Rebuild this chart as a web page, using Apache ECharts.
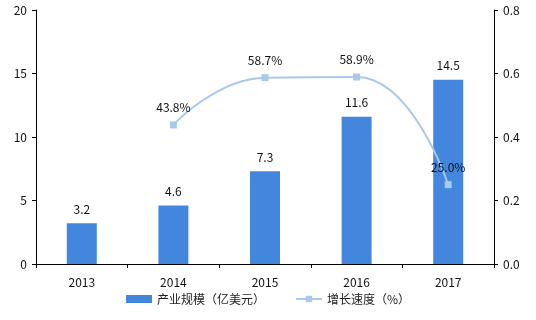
<!DOCTYPE html>
<html><head><meta charset="utf-8">
<script src="https://cdn.jsdelivr.net/npm/echarts@6/dist/echarts.min.js"></script>
<style>html,body{margin:0;padding:0;background:#fff}#c{width:536px;height:320px}</style>
</head><body><div id="c"></div>
<script>
const categories = ['2013','2014','2015','2016','2017'];
const scaleValues = [3.2, 4.6, 7.3, 11.6, 14.5];
const growthValues = [null, 0.438, 0.587, 0.589, 0.25];
const leftTicks = {min:0, max:20, interval:5};
const rightTicks = {min:0, max:0.8, interval:0.2};
const seriesNames = ['产业规模（亿美元）', '增长速度（%）'];

const font = '"Noto Sans CJK SC", "Noto Sans", sans-serif';
const chart = echarts.init(document.getElementById('c'), null, {renderer:'canvas'});
const axisLine = {show:true, lineStyle:{color:'#000', width:1}};
chart.setOption({
  animation:false,
  textStyle:{fontFamily:font},
  grid:{left:36, right:42, top:10, bottom:56, containLabel:false},
  legend:{
    bottom:10, left:'center', itemGap:30, itemWidth:26, itemHeight:8,
    textStyle:{fontSize:12, color:'#222', fontFamily:font},
    data:[{name:seriesNames[0], icon:'rect'}, {name:seriesNames[1]}]
  },
  xAxis:{
    type:'category', data:categories, boundaryGap:true,
    axisLine:axisLine,
    axisTick:{show:true, length:4, lineStyle:{color:'#000'}},
    axisLabel:{color:'#111', fontSize:12, margin:12, fontFamily:font}
  },
  yAxis:[
    {type:'value', min:leftTicks.min, max:leftTicks.max, interval:leftTicks.interval,
     axisLine:axisLine, axisTick:{show:true, length:4, lineStyle:{color:'#000'}},
     splitLine:{show:false}, axisLabel:{color:'#111', fontSize:12, margin:9}},
    {type:'value', min:rightTicks.min, max:rightTicks.max, interval:rightTicks.interval,
     axisLine:axisLine, axisTick:{show:true, length:4, lineStyle:{color:'#000'}},
     splitLine:{show:false}, axisLabel:{color:'#111', fontSize:12, margin:9,
       formatter:v=>v.toFixed(1)}}
  ],
  series:[
    {name:seriesNames[0], type:'bar', data:scaleValues, barWidth:30, yAxisIndex:0,
     itemStyle:{color:'#4286dd'},
     label:{show:true, position:'top', distance:8, color:'#111', fontSize:12,
       formatter:p=>p.value.toFixed(1)}},
    {name:seriesNames[1], type:'line', data:growthValues, yAxisIndex:1, smooth:true,
     connectNulls:false, symbol:'rect', symbolSize:7,
     lineStyle:{color:'#a9c9ea', width:2}, itemStyle:{color:'#a9c9ea'},
     label:{show:true, position:'top', distance:8, color:'#111', fontSize:12,
       formatter:p=>(p.value*100).toFixed(1)+'%'}}
  ]
});
</script></body></html>
